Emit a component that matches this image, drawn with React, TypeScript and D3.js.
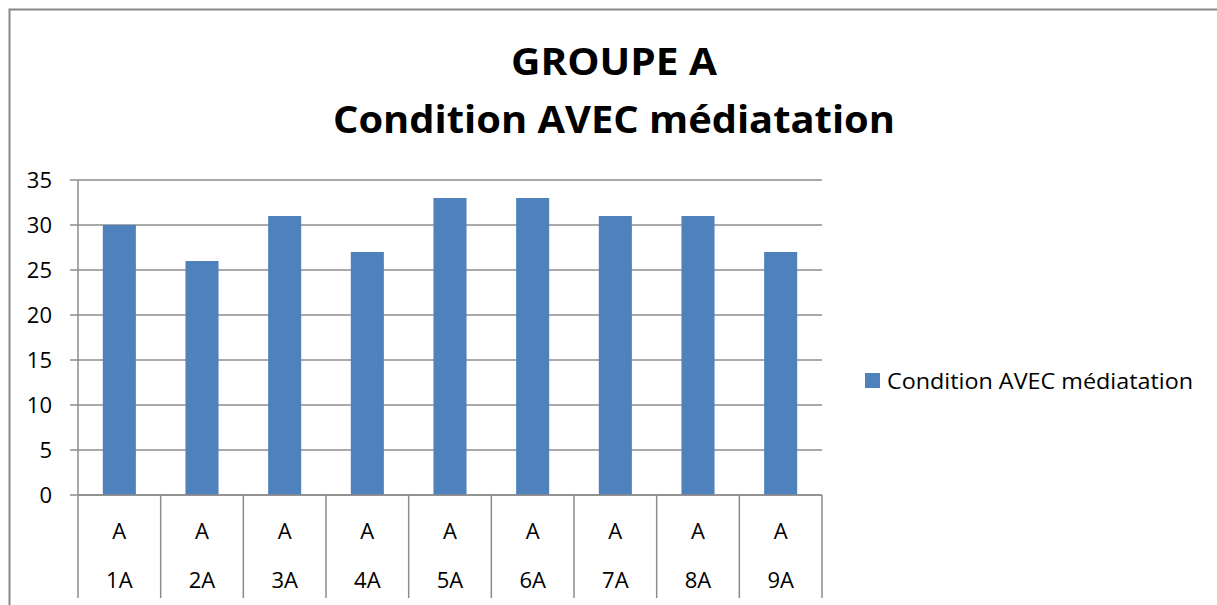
import { useRef, useEffect } from 'react';
import * as d3 from 'd3';

const categories = ['1A', '2A', '3A', '4A', '5A', '6A', '7A', '8A', '9A'];
const groups = ['A', 'A', 'A', 'A', 'A', 'A', 'A', 'A', 'A'];
const values = [30, 26, 31, 27, 33, 33, 31, 31, 27];
const yTicks = [0, 5, 10, 15, 20, 25, 30, 35];
const seriesName = 'Condition AVEC médiatation';
const titleLines = ['GROUPE A', 'Condition AVEC médiatation'];

export default function App() {
  const svgRef = useRef<SVGSVGElement>(null);

  useEffect(() => {
    const w = 1217;
    const h = 605;
    const svg = d3.select(svgRef.current);
    svg.selectAll('*').remove();
    svg.attr('width', w).attr('height', h).style('display', 'block');

    const font = '"Open Sans", sans-serif';
    const left = 78;
    const right = 822;
    const top = 180;
    const bottom = 495;

    // outer frame
    svg
      .append('rect')
      .attr('x', 9.5)
      .attr('y', 9.5)
      .attr('width', w + 10)
      .attr('height', h + 10)
      .attr('fill', 'white')
      .attr('stroke', '#878787')
      .attr('stroke-width', 2);

    // title
    svg
      .selectAll('text.title')
      .data(titleLines)
      .enter()
      .append('text')
      .attr('x', 614)
      .attr('y', (d, i) => 75 + i * 58)
      .attr('text-anchor', 'middle')
      .attr('font-family', font)
      .attr('font-weight', 'bold')
      .attr('font-size', 37)
      .attr('textLength', (d) => (d.length > 10 ? 562 : 206))
      .attr('lengthAdjust', 'spacingAndGlyphs')
      .text((d) => d);

    const x = d3.scaleBand().domain(categories).range([left, right]).paddingInner(0.6).paddingOuter(0.3);
    const xCat = d3.scaleBand().domain(categories).range([left, right]);
    const y = d3.scaleLinear().domain([0, 35]).range([bottom, top]);

    // gridlines + ticks
    svg
      .selectAll('line.grid')
      .data(yTicks)
      .enter()
      .append('line')
      .attr('x1', left - 8)
      .attr('x2', right)
      .attr('y1', (d) => y(d))
      .attr('y2', (d) => y(d))
      .attr('stroke', '#8c8c8c')
      .attr('stroke-width', 1.5);

    svg
      .selectAll('text.ytick')
      .data(yTicks)
      .enter()
      .append('text')
      .attr('x', 52)
      .attr('y', (d) => y(d))
      .attr('dy', '0.35em')
      .attr('text-anchor', 'end')
      .attr('font-family', font)
      .attr('font-size', 22)
      .text((d) => d);

    // y axis line
    svg
      .append('line')
      .attr('x1', left)
      .attr('x2', left)
      .attr('y1', top)
      .attr('y2', bottom)
      .attr('stroke', '#8c8c8c')
      .attr('stroke-width', 1.5);

    // bars
    svg
      .selectAll('rect.bar')
      .data(values)
      .enter()
      .append('rect')
      .attr('x', (d, i) => x(categories[i])!)
      .attr('y', (d) => y(d))
      .attr('width', x.bandwidth())
      .attr('height', (d) => bottom - y(d))
      .attr('fill', '#4f81bd');

    // x axis line + category separators
    svg
      .append('line')
      .attr('x1', left)
      .attr('x2', right)
      .attr('y1', bottom)
      .attr('y2', bottom)
      .attr('stroke', '#8c8c8c')
      .attr('stroke-width', 1.5);

    const seps = categories.map((c) => xCat(c)!).concat([right]);
    svg
      .selectAll('line.sep')
      .data(seps)
      .enter()
      .append('line')
      .attr('x1', (d) => d)
      .attr('x2', (d) => d)
      .attr('y1', bottom)
      .attr('y2', 598)
      .attr('stroke', '#8c8c8c')
      .attr('stroke-width', 1.5);

    svg
      .selectAll('text.grp')
      .data(groups)
      .enter()
      .append('text')
      .attr('x', (d, i) => xCat(categories[i])! + xCat.bandwidth() / 2)
      .attr('y', 531)
      .attr('dy', '0.35em')
      .attr('text-anchor', 'middle')
      .attr('font-family', font)
      .attr('font-size', 22)
      .text((d) => d);

    svg
      .selectAll('text.cat')
      .data(categories)
      .enter()
      .append('text')
      .attr('x', (d) => xCat(d)! + xCat.bandwidth() / 2)
      .attr('y', 580)
      .attr('dy', '0.35em')
      .attr('text-anchor', 'middle')
      .attr('font-family', font)
      .attr('font-size', 22)
      .text((d) => d);

    // legend
    svg
      .append('rect')
      .attr('x', 865)
      .attr('y', 373)
      .attr('width', 15)
      .attr('height', 15)
      .attr('fill', '#4f81bd');
    svg
      .append('text')
      .attr('x', 887)
      .attr('y', 381)
      .attr('dy', '0.35em')
      .attr('font-family', font)
      .attr('font-size', 22)
      .attr('textLength', 306)
      .attr('lengthAdjust', 'spacingAndGlyphs')
      .text(seriesName);
  }, []);

  return <svg ref={svgRef} style={{ position: 'absolute', left: 0, top: 0 }}></svg>;
}
